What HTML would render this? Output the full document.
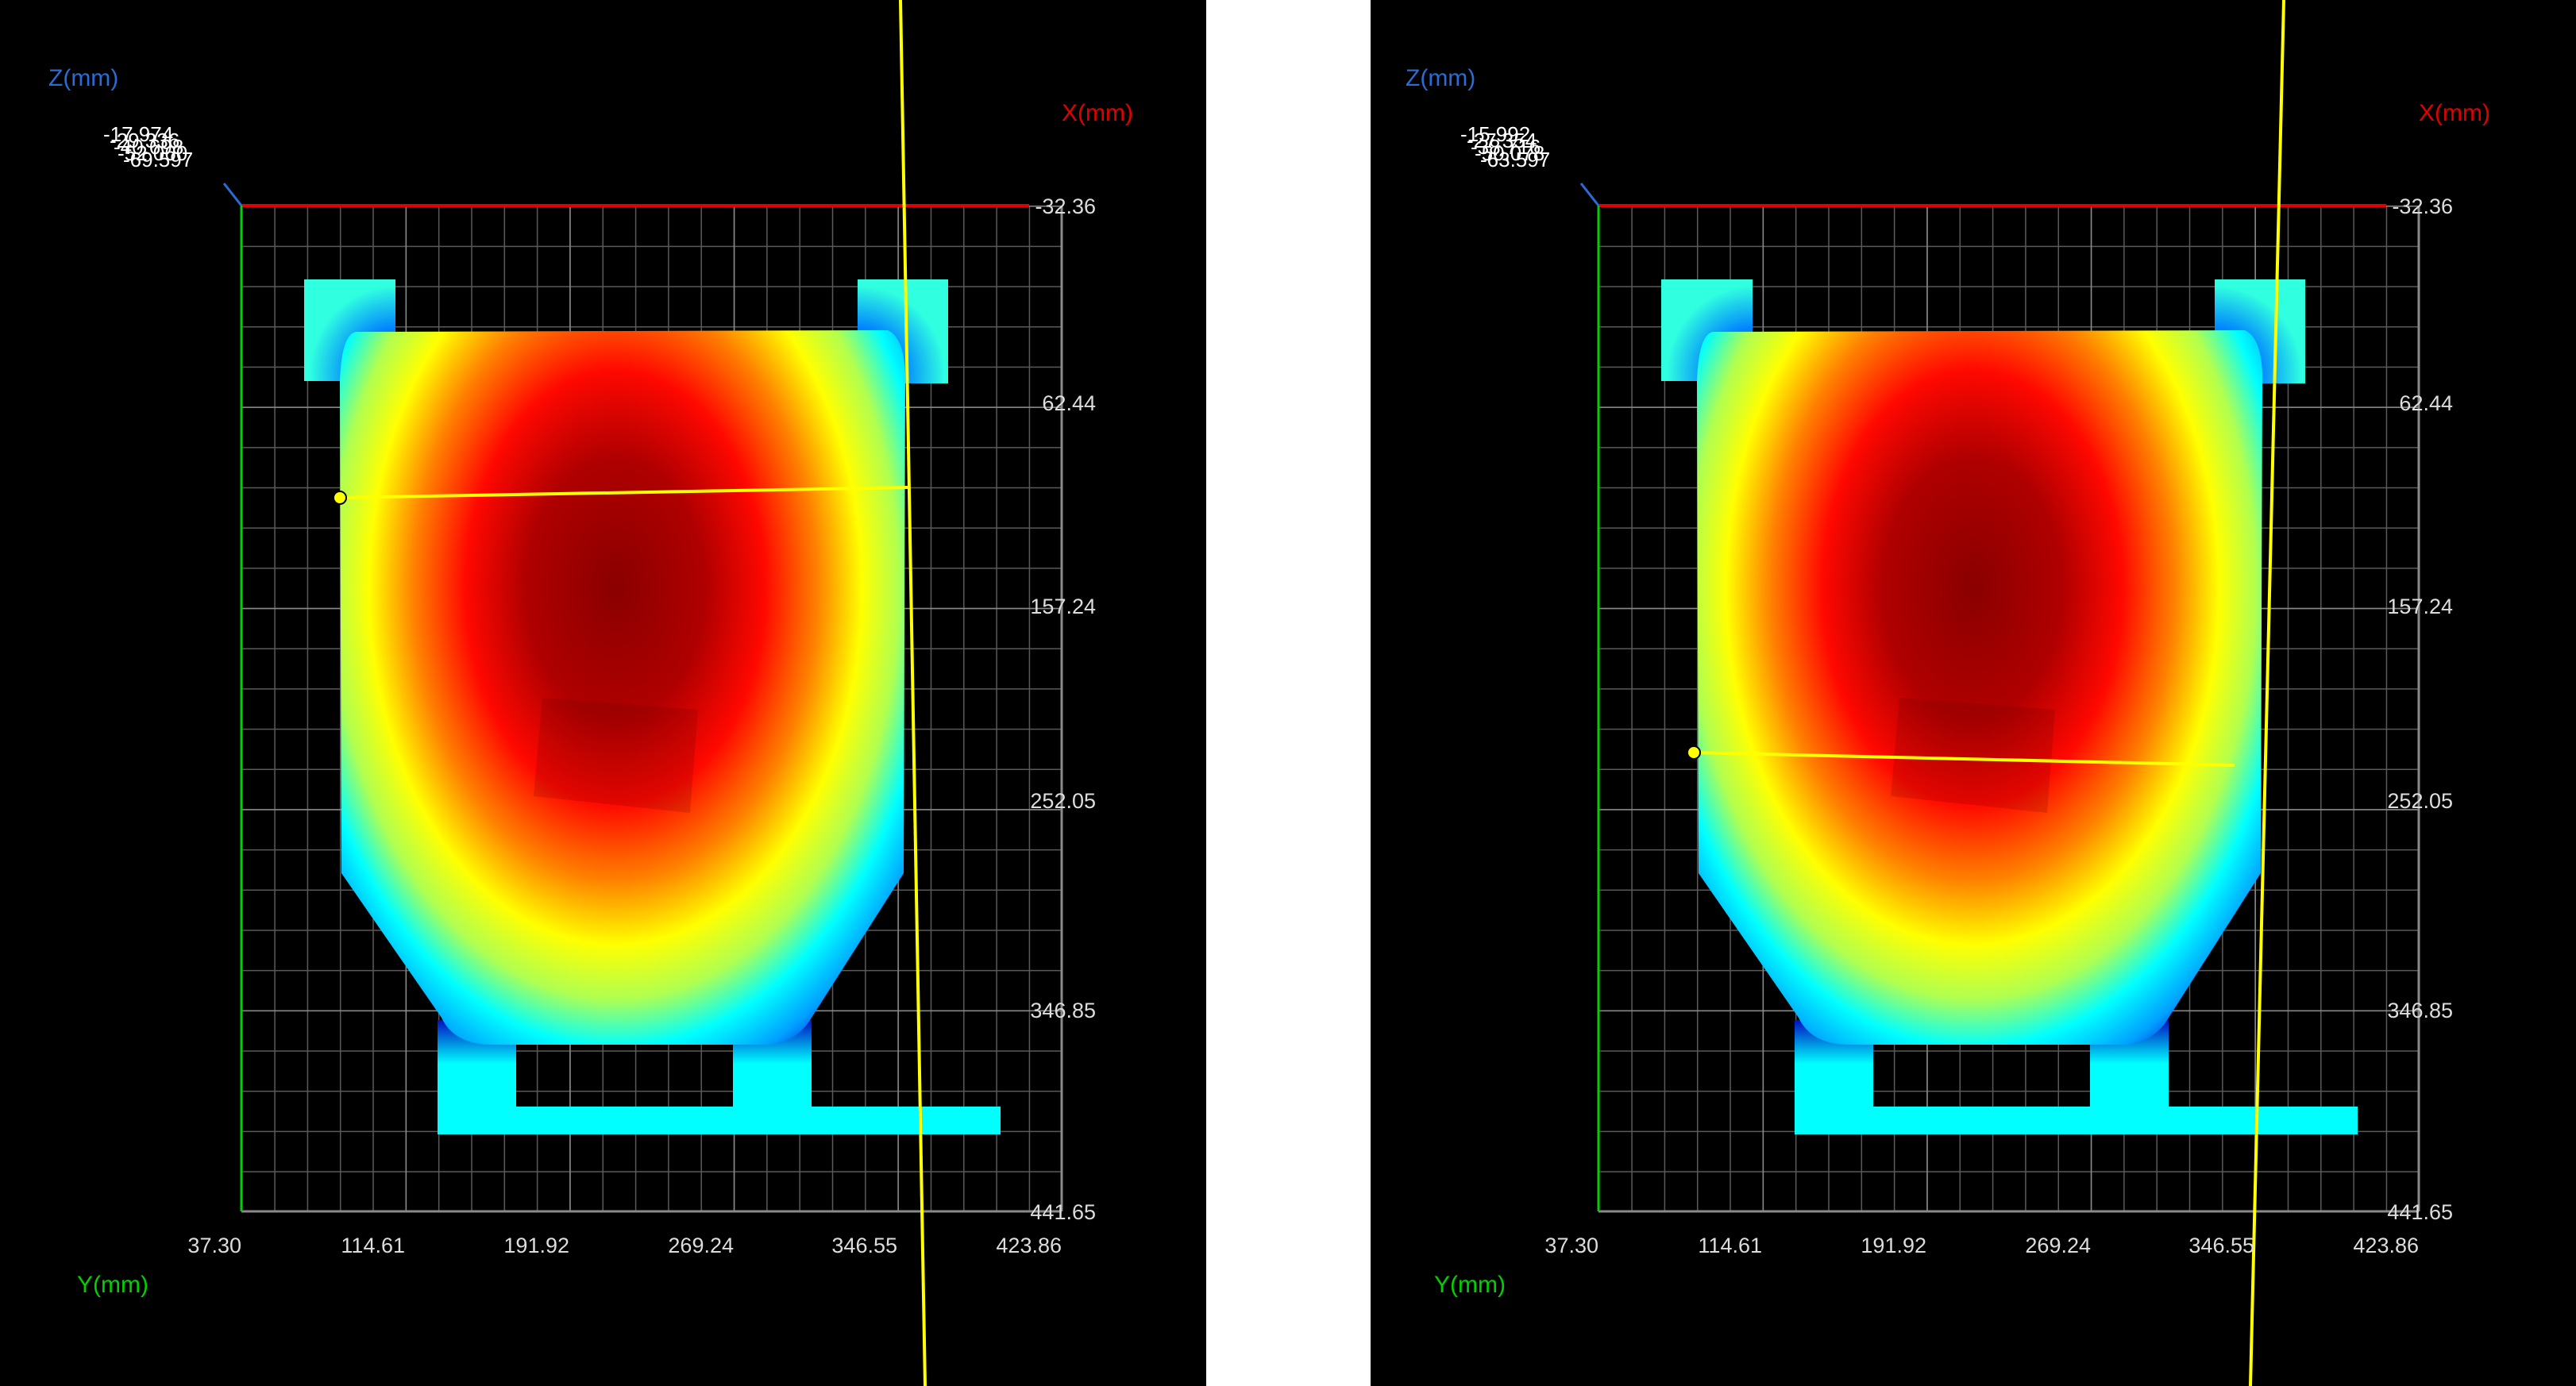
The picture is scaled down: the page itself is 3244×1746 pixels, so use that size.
<!DOCTYPE html>
<html><head><meta charset="utf-8"><style>
html,body{margin:0;padding:0;background:#fff;}
svg{display:block}
text{font-family:"Liberation Sans",sans-serif;}
</style></head><body>
<svg width="3244" height="1746" viewBox="0 0 3244 1746" xmlns="http://www.w3.org/2000/svg">
<defs>
<pattern id="minor" patternUnits="userSpaceOnUse" x="304" y="259" width="41.32" height="50.68">
<path d="M0 0 V50.68 M0 0 H41.32" stroke="#5a5a5a" stroke-width="3" fill="none"/>
</pattern>
<pattern id="major" patternUnits="userSpaceOnUse" x="304" y="259" width="206.6" height="253.4">
<path d="M0 0 V253.4 M0 0 H206.6" stroke="#8a8a8a" stroke-width="3" fill="none"/>
</pattern>
<radialGradient id="heat" gradientUnits="userSpaceOnUse" cx="775" cy="740" r="470" gradientTransform="translate(775,740) scale(1,1.45) translate(-775,-740)">
<stop offset="0" stop-color="#8a0000"/>
<stop offset="0.24" stop-color="#b00000"/>
<stop offset="0.40" stop-color="#ff0800"/>
<stop offset="0.54" stop-color="#ff8000"/>
<stop offset="0.66" stop-color="#ffff00"/>
<stop offset="0.76" stop-color="#b0ff50"/>
<stop offset="0.85" stop-color="#00ffff"/>
<stop offset="0.94" stop-color="#00a0ff"/>
<stop offset="1" stop-color="#0030e0"/>
</radialGradient>
<radialGradient id="tabL" gradientUnits="userSpaceOnUse" cx="500" cy="470" r="110">
<stop offset="0" stop-color="#0010c0"/><stop offset="0.5" stop-color="#0080ff"/><stop offset="1" stop-color="#30ffe0"/>
</radialGradient>
<radialGradient id="tabR" gradientUnits="userSpaceOnUse" cx="1080" cy="470" r="110">
<stop offset="0" stop-color="#0010c0"/><stop offset="0.5" stop-color="#0080ff"/><stop offset="1" stop-color="#30ffe0"/>
</radialGradient>
<linearGradient id="post" gradientUnits="userSpaceOnUse" x1="0" y1="1285" x2="0" y2="1340">
<stop offset="0" stop-color="#0010c0"/><stop offset="1" stop-color="#00ffff"/>
</linearGradient>
</defs>
<rect x="0" y="0" width="1519" height="1746" fill="#000"/>
<rect x="1519" y="0" width="207" height="1746" fill="#fff"/>
<rect x="1726" y="0" width="1518" height="1746" fill="#000"/>

<!-- LEFT PANEL -->
<g>
<rect x="304" y="259" width="1033" height="1267" fill="url(#minor)"/>
<rect x="304" y="259" width="1033" height="1267" fill="url(#major)"/>
<path d="M1337 259 V1526 M304 1526 H1337" stroke="#8a8a8a" stroke-width="3"/>
<rect x="383" y="352" width="115" height="128" fill="url(#tabL)"/>
<rect x="1080" y="352" width="114" height="131" fill="url(#tabR)"/>
<path d="M551 1290 H650 V1394 H923 V1290 H1022 V1394 H1260 V1429 H551 Z" fill="#00ffff"/>
<rect x="551" y="1285" width="99" height="60" fill="url(#post)"/>
<rect x="923" y="1285" width="99" height="60" fill="url(#post)"/>
<path d="M448 418 L1118 416 Q1138 425 1140 470 L1138 1100 L1022 1282 Q1002 1316 960 1316 L620 1316 Q572 1316 556 1282 L430 1100 L428 480 Q430 422 448 418 Z" fill="url(#heat)"/>
<polygon points="683,879 879,894 869,1024 672,1003" fill="#600000" opacity="0.18"/>
<line x1="304" y1="259" x2="1296" y2="259" stroke="#e00000" stroke-width="4"/>
<line x1="304" y1="259" x2="304" y2="1526" stroke="#00d000" stroke-width="3"/>
<line x1="282" y1="231" x2="304" y2="259" stroke="#2a6bd6" stroke-width="3"/>
<line x1="428" y1="627" x2="1145" y2="614" stroke="#ffff00" stroke-width="4"/>
<circle cx="428" cy="627" r="8" fill="#ffff00" stroke="#000" stroke-width="2"/>
<line x1="1134" y1="0" x2="1165" y2="1746" stroke="#ffff00" stroke-width="4"/>
<text x="61" y="108" font-size="30" fill="#2a6bd6">Z(mm)</text>
<text x="1337" y="152" font-size="30" fill="#e00000">X(mm)</text>
<text x="97" y="1628" font-size="30" fill="#00d000">Y(mm)</text>
<g font-size="26" fill="#fff">
<text x="130" y="178">-17.974</text><text x="138" y="186">-29.336</text><text x="143" y="194">-40.698</text><text x="148" y="202">-52.060</text><text x="155" y="210">-69.597</text>
</g>
<g font-size="27" fill="#ddd" text-anchor="end">
<text x="1380" y="269">-32.36</text><text x="1380" y="517">62.44</text><text x="1380" y="773">157.24</text><text x="1380" y="1018">252.05</text><text x="1380" y="1282">346.85</text><text x="1380" y="1536">441.65</text>
<text x="304" y="1578">37.30</text><text x="510" y="1578">114.61</text><text x="717" y="1578">191.92</text><text x="924" y="1578">269.24</text><text x="1130" y="1578">346.55</text><text x="1337" y="1578">423.86</text>
</g>
</g>

<!-- RIGHT PANEL -->
<g transform="translate(1709,0)">
<rect x="304" y="259" width="1033" height="1267" fill="url(#minor)"/>
<rect x="304" y="259" width="1033" height="1267" fill="url(#major)"/>
<path d="M1337 259 V1526 M304 1526 H1337" stroke="#8a8a8a" stroke-width="3"/>
<rect x="383" y="352" width="115" height="128" fill="url(#tabL)"/>
<rect x="1080" y="352" width="114" height="131" fill="url(#tabR)"/>
<path d="M551 1290 H650 V1394 H923 V1290 H1022 V1394 H1260 V1429 H551 Z" fill="#00ffff"/>
<rect x="551" y="1285" width="99" height="60" fill="url(#post)"/>
<rect x="923" y="1285" width="99" height="60" fill="url(#post)"/>
<path d="M448 418 L1118 416 Q1138 425 1140 470 L1138 1100 L1022 1282 Q1002 1316 960 1316 L620 1316 Q572 1316 556 1282 L430 1100 L428 480 Q430 422 448 418 Z" fill="url(#heat)"/>
<polygon points="683,879 879,894 869,1024 672,1003" fill="#600000" opacity="0.18"/>
<line x1="304" y1="259" x2="1296" y2="259" stroke="#e00000" stroke-width="4"/>
<line x1="304" y1="259" x2="304" y2="1526" stroke="#00d000" stroke-width="3"/>
<line x1="282" y1="231" x2="304" y2="259" stroke="#2a6bd6" stroke-width="3"/>
<line x1="424" y1="948" x2="1105" y2="964" stroke="#ffff00" stroke-width="4"/>
<circle cx="424" cy="948" r="8" fill="#ffff00" stroke="#000" stroke-width="2"/>
<line x1="1167" y1="0" x2="1125" y2="1746" stroke="#ffff00" stroke-width="4"/>
<text x="61" y="108" font-size="30" fill="#2a6bd6">Z(mm)</text>
<text x="1337" y="152" font-size="30" fill="#e00000">X(mm)</text>
<text x="97" y="1628" font-size="30" fill="#00d000">Y(mm)</text>
<g font-size="26" fill="#fff">
<text x="130" y="178">-15.992</text><text x="138" y="186">-27.354</text><text x="143" y="194">-38.716</text><text x="148" y="202">-50.078</text><text x="155" y="210">-63.597</text>
</g>
<g font-size="27" fill="#ddd" text-anchor="end">
<text x="1380" y="269">-32.36</text><text x="1380" y="517">62.44</text><text x="1380" y="773">157.24</text><text x="1380" y="1018">252.05</text><text x="1380" y="1282">346.85</text><text x="1380" y="1536">441.65</text>
<text x="304" y="1578">37.30</text><text x="510" y="1578">114.61</text><text x="717" y="1578">191.92</text><text x="924" y="1578">269.24</text><text x="1130" y="1578">346.55</text><text x="1337" y="1578">423.86</text>
</g>
</g>
</svg>
</body></html>
